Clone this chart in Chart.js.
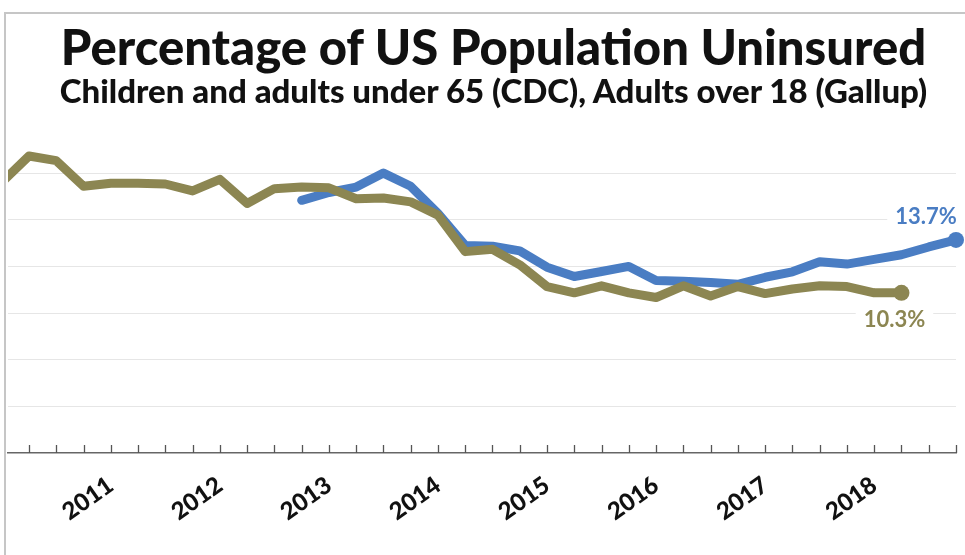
<!DOCTYPE html>
<html>
<head>
<meta charset="utf-8">
<title>Percentage of US Population Uninsured</title>
<script src="https://cdn.jsdelivr.net/npm/chart.js@4/dist/chart.umd.min.js"></script>
<style>
  html, body { margin: 0; padding: 0; background: #fff; }
  #wrap { position: relative; width: 965px; height: 555px; font-family: Lato, "Noto Sans", sans-serif; color: #111; }
  #frame { position: absolute; left: 4px; top: 12px; right: 0; bottom: 0;
           border-left: 2px solid #c6c6c6; border-top: 2px solid #c6c6c6; pointer-events: none; }
  .head { position: absolute; left: 22px; right: 0; margin: 0; text-align: center; font-weight: 900; white-space: nowrap; }
  #title { top: 22px; font-size: 49px; line-height: 49px; }
  #subtitle { top: 74px; font-size: 33px; line-height: 33px; }
</style>
</head>
<body>
<div id="wrap">
  <canvas id="chart" width="965" height="555"></canvas>
  <div id="frame"></div>
  <h1 class="head" id="title">Percentage of US Population Uninsured</h1>
  <h2 class="head" id="subtitle">Children and adults under 65 (CDC), Adults over 18 (Gallup)</h2>
</div>
<script>
// quarters on the x axis (index 0 = 2010 Q1)
const quarters = [
  '2010 Q1', '2010 Q2', '2010 Q3', '2010 Q4',
  '2011 Q1', '2011 Q2', '2011 Q3', '2011 Q4',
  '2012 Q1', '2012 Q2', '2012 Q3', '2012 Q4',
  '2013 Q1', '2013 Q2', '2013 Q3', '2013 Q4',
  '2014 Q1', '2014 Q2', '2014 Q3', '2014 Q4',
  '2015 Q1', '2015 Q2', '2015 Q3', '2015 Q4',
  '2016 Q1', '2016 Q2', '2016 Q3', '2016 Q4',
  '2017 Q1', '2017 Q2', '2017 Q3', '2017 Q4',
  '2018 Q1', '2018 Q2', '2018 Q3', '2018 Q4'
];
const yearLabels = ['2011', '2012', '2013', '2014', '2015', '2016', '2017', '2018'];

// CDC, children and adults under 65 (starts 2010 Q1)
const cdcStart = '2010 Q1';
const cdcValues = [
  17.4, 19.1, 18.8, 17.15, 17.35, 17.35, 17.3, 16.85,
  17.6, 16.05, 17.0, 17.1, 17.05, 16.35, 16.4, 16.15,
  15.3, 12.95, 13.1, 12.1, 10.7, 10.3, 10.75, 10.3,
  10.0, 10.75, 10.1, 10.7, 10.25, 10.55, 10.75, 10.7,
  10.3, 10.3
];

// Gallup, adults over 18 (starts 2012 Q4)
const gallupStart = '2012 Q4';
const gallupValues = [
  16.25, 16.75, 17.1, 18.0, 17.15,
  15.4, 13.35, 13.3, 13.0, 11.95, 11.35, 11.67, 12.0,
  11.1, 11.05, 10.97, 10.85, 11.3, 11.65, 12.3, 12.15,
  12.45, 12.75, 13.25, 13.7
];

const gridSteps = 3;   // horizontal lines every 3 points

function toPoints(values, start) {
  const first = quarters.indexOf(start);
  return values.map((v, i) => ({ x: first + i, y: v }));
}

const FONT = 'Lato, "Noto Sans", sans-serif';
const OLIVE = '#8c8652';
const BLUE = '#4a7dc3';

// small tick marks pointing up into the plot
const innerTicks = {
  id: 'innerTicks',
  beforeDatasetsDraw(chart) {
    const sx = chart.scales.x, ctx = chart.ctx;
    ctx.save();
    ctx.strokeStyle = '#555';
    ctx.lineWidth = 1.3;
    ctx.beginPath();
    sx.ticks.forEach(t => {
      const px = Math.round(sx.getPixelForValue(t.value)) + 0.5;
      ctx.moveTo(px, sx.top);
      ctx.lineTo(px, sx.top - 8);
    });
    ctx.stroke();
    ctx.restore();
  }
};

// value labels next to the last point of each line
const endLabels = {
  id: 'endLabels',
  afterDatasetsDraw(chart) {
    const ctx = chart.ctx;
    chart.data.datasets.forEach((ds, i) => {
      const meta = chart.getDatasetMeta(i);
      const pt = meta.data[meta.data.length - 1];
      const text = ds.data[ds.data.length - 1].y.toFixed(1) + '%';
      const lx = pt.x + ds.labelDx, ly = pt.y + ds.labelDy;
      ctx.save();
      ctx.font = 'bold 22px ' + FONT;
      const w = ctx.measureText(text).width;
      ctx.fillStyle = '#fff';
      ctx.fillRect(lx - w / 2 - 8, ly - 12, w + 16, 24);
      ctx.fillStyle = ds.borderColor;
      ctx.textAlign = 'center';
      ctx.textBaseline = 'middle';
      ctx.fillText(text, lx, ly);
      ctx.restore();
    });
  }
};

const lastDot = ctx => ctx.dataIndex === ctx.dataset.data.length - 1 ? 8 : 0;

new Chart(document.getElementById('chart'), {
  type: 'line',
  data: {
    datasets: [
      {
        label: 'CDC',
        data: toPoints(cdcValues, cdcStart),
        borderColor: OLIVE,
        backgroundColor: OLIVE,
        borderWidth: 9,
        borderJoinStyle: 'round',
        borderCapStyle: 'round',
        pointRadius: lastDot,
        pointBorderWidth: 0,
        pointBackgroundColor: OLIVE,
        clip: { left: 0, top: false, right: false, bottom: 0 },
        labelDx: -7, labelDy: 27
      },
      {
        label: 'Gallup',
        data: toPoints(gallupValues, gallupStart),
        borderColor: BLUE,
        backgroundColor: BLUE,
        borderWidth: 9,
        borderJoinStyle: 'round',
        borderCapStyle: 'round',
        pointRadius: lastDot,
        pointBorderWidth: 0,
        pointBackgroundColor: BLUE,
        clip: { left: 0, top: false, right: false, bottom: 0 },
        labelDx: -30, labelDy: -23
      }
    ]
  },
  options: {
    responsive: false,
    animation: false,
    events: [],
    layout: { padding: { left: 8, right: 9, top: 142, bottom: 0 } },
    plugins: {
      legend: { display: false },
      tooltip: { enabled: false }
    },
    scales: {
      x: {
        type: 'linear',
        min: 0.23,
        max: 35,
        afterBuildTicks: s => {
          s.ticks = quarters.slice(1).map((q, i) => ({ value: i + 1 }));
        },
        afterFit: s => {
          s.height = 102;
          s.paddingLeft = 0;
          s.paddingRight = 0;
        },
        grid: { display: false, drawTicks: false },
        border: { display: true, color: '#666', width: 1.5 },
        ticks: {
          autoSkip: false,
          minRotation: 35,
          maxRotation: 35,
          padding: 18,
          color: '#111',
          font: { family: FONT, size: 24, weight: '900' },
          callback: v => {
            const q = quarters[v] || '';
            const yr = q.slice(0, 4);
            return q.endsWith('Q1') && yearLabels.includes(yr) ? yr : '';
          }
        }
      },
      y: {
        min: 0,
        max: 20,
        afterFit: s => { s.width = 0; },
        border: { display: false },
        grid: {
          drawTicks: false,
          color: c => c.tick.value % gridSteps === 0 && c.tick.value > 0 ? '#e6e6e6' : 'rgba(0,0,0,0)',
          lineWidth: 1
        },
        ticks: { display: false, stepSize: 1 }
      }
    }
  },
  plugins: [innerTicks, endLabels]
});
</script>
</body>
</html>
